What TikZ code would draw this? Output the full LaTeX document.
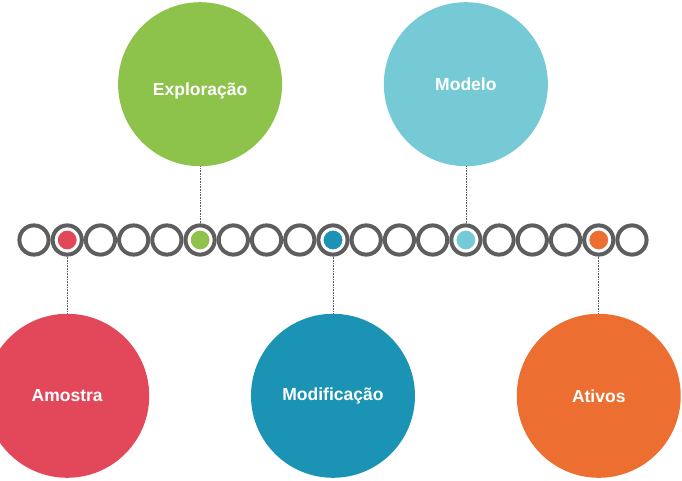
\documentclass[tikz,border=0pt]{standalone}
\usepackage{fontspec}
\setmainfont{Liberation Sans}
\usetikzlibrary{positioning}

\definecolor{amostracol}{HTML}{E2485A}
\definecolor{explorcol}{HTML}{8DC24B}
\definecolor{modifcol}{HTML}{1A93B4}
\definecolor{modelocol}{HTML}{76CAD6}
\definecolor{ativoscol}{HTML}{EC6E31}
\definecolor{ringcol}{HTML}{5E5E5E}

\begin{document}
\begin{tikzpicture}[
x=1pt, y=1pt,
node distance=57pt,
ring/.style={circle, draw=ringcol, line width=4pt, fill=white, minimum size=29.2pt, inner sep=0pt},
dot/.style={circle, draw=white, line width=1pt, minimum size=20pt, inner sep=0pt},
big/.style={circle, minimum size=164pt, inner sep=0pt, text=white, font=\fontsize{17.5}{20}\selectfont\bfseries},
link/.style={densely dotted, draw=ringcol, line width=0.6pt}
]
\useasboundingbox (0,0) rectangle (682,480);

% ---------- TIMELINE ----------

\foreach \i in {1,...,19}
  \node[ring] (c\i) at ({34+33.22*(\i-1)},240) {};

\node[dot, fill=amostracol] (p2) at (c2) {};
\node[dot, fill=explorcol] (p6) at (c6) {};
\node[dot, fill=modifcol] (p10) at (c10) {};
\node[dot, fill=modelocol] (p14) at (c14) {};
\node[dot, fill=ativoscol] (p18) at (c18) {};

% ---------- PHASES ----------

\node[big, fill=explorcol, text height=27pt, text depth=4pt, above=of c6] (explor)
{Exploração};

\node[big, fill=modelocol, above=of c14] (modelo)
{Modelo};

\node[big, fill=amostracol, below=of c2] (amostra)
{Amostra};

\node[big, fill=modifcol, below=of c10] (modif)
{Modificação};

\node[big, fill=ativoscol, below=of c18] (ativos)
{Ativos};

% ---------- LINKS ----------

\draw[link] (explor) -- (c6);
\draw[link] (modelo) -- (c14);
\draw[link] (c2) -- (amostra);
\draw[link] (c10) -- (modif);
\draw[link] (c18) -- (ativos);

\end{tikzpicture}
\end{document}
